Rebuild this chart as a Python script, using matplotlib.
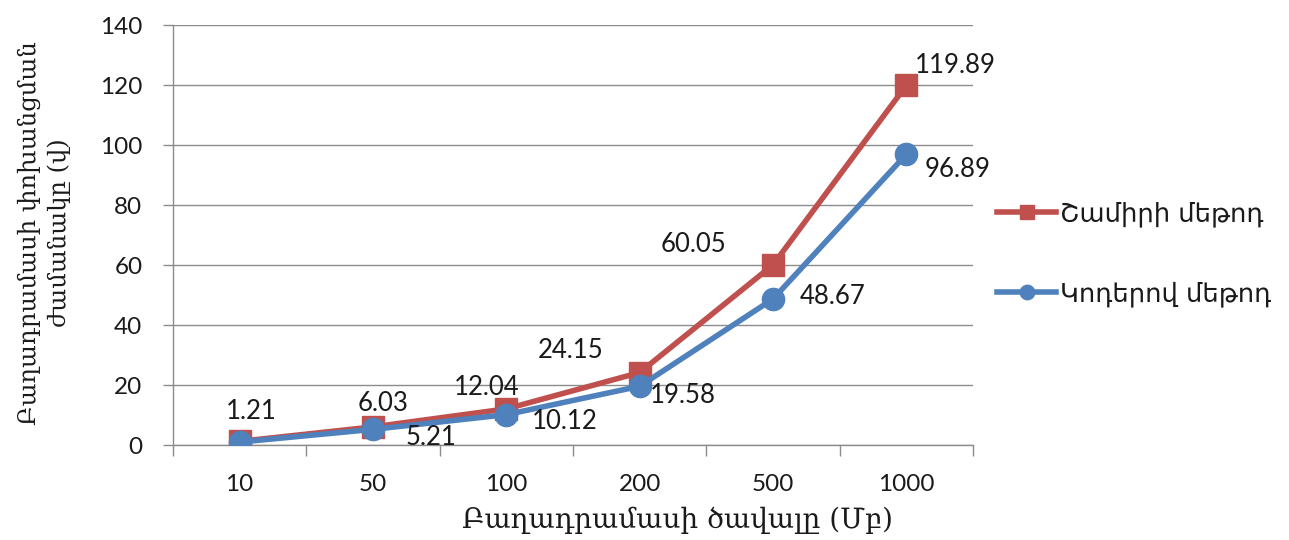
import matplotlib
matplotlib.use('Agg')
import matplotlib.pyplot as plt
from matplotlib.ticker import FixedLocator, MultipleLocator

# Component size categories (Mb) and timing results for the two methods
sizes = ['10', '50', '100', '200', '500', '1000']
shamir = [1.21, 6.03, 12.04, 24.15, 60.05, 119.89]
codes = [0.98, 5.21, 10.12, 19.58, 48.67, 96.89]
shamir_label = 'Շամիրի մեթոդ'
codes_label = 'Կոդերով մեթոդ'
x_title = 'Բաղադրամասի ծավալը (Մբ)'
y_title = 'Բաղադրամասի փոխանցման\nժամանակը (վ)'
y_ticks = [0, 20, 40, 60, 80, 100, 120, 140]

# label offsets in pixels (dx, dy) from each point
shamir_offsets = [(12, 30), (10, 23), (-20, 21), (-69, 22), (-79, 20), (49, 20)]
codes_offsets = [None, (58, -8), (58, -7), (43, -9), (60, 2), (51, -15)]

RED = '#C0504D'
BLUE = '#4F81BD'
GRID = '#8C8C8C'
INK = '#1a1a1a'
NUM_FONT = 'Lato'

W, H = 1289, 540
fig = plt.figure(figsize=(W / 100, H / 100), dpi=100)
ax = fig.add_axes([173 / W, 1 - 445 / H, 800 / W, 420 / H])

x = list(range(len(sizes)))
ax.plot(x, shamir, color=RED, lw=4.0, marker='s', ms=16.5, zorder=3,
        label=shamir_label)
ax.plot(x, codes, color=BLUE, lw=4.0, marker='o', ms=16, zorder=4,
        label=codes_label)

for xi, v, off in zip(x, shamir, shamir_offsets):
    ax.annotate(f'{v:.2f}', (xi, v), xytext=off, textcoords='offset pixels',
                ha='center', va='center', fontsize=18.5, family=NUM_FONT,
                color=INK, zorder=5)
for xi, v, off in zip(x, codes, codes_offsets):
    if off is None:
        continue
    ax.annotate(f'{v:.2f}', (xi, v), xytext=off, textcoords='offset pixels',
                ha='center', va='center', fontsize=18.5, family=NUM_FONT,
                color=INK, zorder=5)

ax.set_xlim(-0.5, len(sizes) - 0.5)
ax.set_ylim(0, 140)
ax.yaxis.set_major_locator(FixedLocator(y_ticks))
ax.set_xticks(x)
ax.set_xticklabels(sizes)
ax.xaxis.set_minor_locator(MultipleLocator(1, offset=0.5))
ax.tick_params(axis='x', which='major', length=0, pad=21, labelsize=17.5)
ax.tick_params(axis='x', which='minor', length=8, width=1, color=GRID,
               direction='out')
ax.tick_params(axis='y', which='major', length=7, width=1, color=GRID,
               direction='out', pad=15, labelsize=17.5)
for lab in ax.get_xticklabels() + ax.get_yticklabels():
    lab.set_family(NUM_FONT)
    lab.set_color(INK)

ax.yaxis.grid(True, color=GRID, lw=1)
ax.set_axisbelow(True)
for side in ('top', 'right'):
    ax.spines[side].set_visible(False)
for side in ('left', 'bottom'):
    ax.spines[side].set_color(GRID)
    ax.spines[side].set_linewidth(1)

fig.text(677 / W, 1 - 520 / H, x_title, ha='center', va='center',
         fontsize=20, family='DejaVu Serif', color=INK)
fig.text(44 / W, 1 - 233 / H, y_title, ha='center', va='center',
         rotation=90, fontsize=17.5, family='DejaVu Serif', color=INK,
         multialignment='center', linespacing=1.35)

leg = ax.legend(loc='center left', bbox_to_anchor=(997 / W, 1 - 254 / H),
                bbox_transform=fig.transFigure, frameon=False,
                prop={'family': 'DejaVu Sans', 'size': 18.5},
                handlelength=2.3, handletextpad=0.15, labelspacing=2.1,
                markerscale=0.65, borderaxespad=0, borderpad=0)
for t in leg.get_texts():
    t.set_color(INK)

fig.savefig('out.png', dpi=100)
